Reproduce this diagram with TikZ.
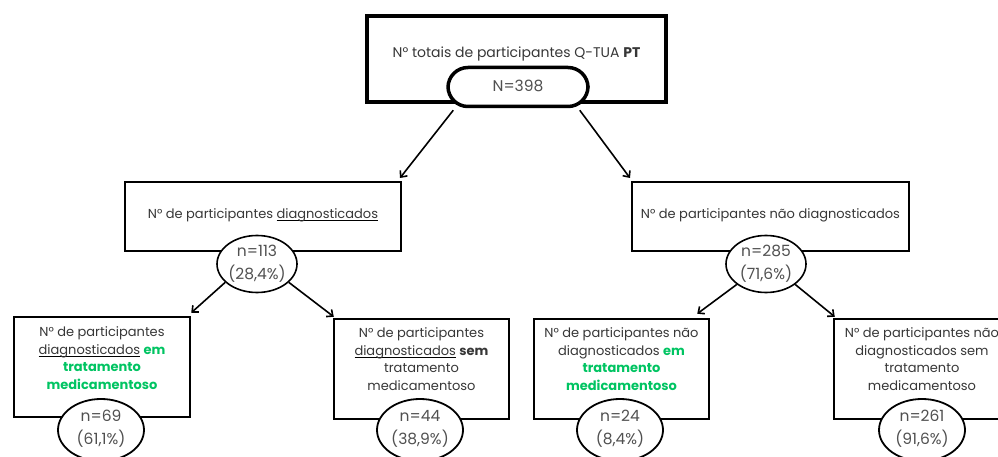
\documentclass[tikz,border=0pt]{standalone}
\usepackage{fontspec}
\setmainfont{Poppins}
\usetikzlibrary{arrows.meta,calc,shapes.geometric}
\definecolor{txt}{RGB}{55,55,55}
\definecolor{num}{RGB}{80,80,80}
\definecolor{grn}{RGB}{0,196,98}
\newsavebox{\myulbox}
\newcommand{\ul}[1]{\sbox{\myulbox}{#1}\rlap{\color{black}\vrule width \wd\myulbox height -2.2pt depth 3.3pt}\usebox{\myulbox}}
\newcommand{\gb}[1]{\textcolor{grn}{\bfseries #1}}
\begin{document}
\begin{tikzpicture}[x=1pt,y=-1pt,
  txtnode/.style={text=txt,font=\fontsize{13}{17.5}\selectfont,align=center,inner sep=0},
  numnode/.style={text=num,font=\fontsize{15.5}{23}\selectfont,align=center,inner sep=0},
  box/.style={draw=black,rectangle,inner sep=0},
  bell/.style={draw,ellipse,fill=white,line width=1.8pt,minimum width=86pt,minimum height=62pt,inner sep=0},
  conn/.style={line width=1.6pt,-{Straight Barb[length=5pt,width=9pt]}}]
\clip (0,0) rectangle (998,457);
\fill[white] (0,0) rectangle (998,457);
% top
\node[box,line width=4.5pt,minimum width=299pt,minimum height=86pt] (top) at (516.5,59) {};
\node[txtnode,font=\fontsize{14}{17}\selectfont] (toptext) at (516.5,54) {N° totais de participantes Q-TUA \textbf{PT}};
\node[draw,fill=white,line width=3.5pt,rounded corners=20pt,minimum width=140pt,minimum height=39pt,inner sep=0] (oval) at (518,87) {};
\node[numnode] (ovaltext) at (518,86) {N=398};
% middle
\node[box,line width=2pt,minimum width=276pt,minimum height=69pt] (midL) at (263,216.5) {};
\node[txtnode] (midLtext) at (263,215) {N° de participantes \ul{diagnosticados}};
\node[box,line width=2pt,minimum width=277pt,minimum height=69pt] (midR) at (770.5,216.5) {};
\node[txtnode] (midRtext) at (770.5,215) {N° de participantes não diagnosticados};
\node[draw,ellipse,fill=white,line width=1.6pt,minimum width=80pt,minimum height=57pt,inner sep=0] (eL) at (257,264) {};
\node[numnode] (eLtext) at (257,264) {n=113\\(28,4\%)};
\node[draw,ellipse,fill=white,line width=1.6pt,minimum width=80pt,minimum height=57pt,inner sep=0] (eR) at (766,264) {};
\node[numnode] (eRtext) at (766,264) {n=285\\(71,6\%)};
% bottom boxes
\node[box,line width=2.5pt,minimum width=176pt,minimum height=100pt] (b1) at (102,367) {};
\node[txtnode] (b1text) at (102,358) {N° de participantes\\\ul{diagnosticados} \gb{em}\\\gb{tratamento}\\\gb{medicamentoso}};
\node[box,line width=2.5pt,minimum width=175pt,minimum height=100pt] (b2) at (421.5,369) {};
\node[txtnode] (b2text) at (421.5,359) {N° de participantes\\\ul{diagnosticados} \textbf{sem}\\tratamento\\medicamentoso};
\node[box,line width=2.5pt,minimum width=175pt,minimum height=100pt] (b3) at (621.5,369) {};
\node[txtnode] (b3text) at (621.5,359) {N° de participantes não\\diagnosticados \gb{em}\\\gb{tratamento}\\\gb{medicamentoso}};
\node[box,line width=2.5pt,minimum width=176pt,minimum height=100pt] (b4) at (922,369) {};
\node[txtnode] (b4text) at (922,359) {N° de participantes não\\diagnosticados sem\\tratamento\\medicamentoso};
% bottom ellipses
\node[bell] (c1) at (101,430) {};
\node[numnode] (c1text) at (101,429) {n=69\\(61,1\%)};
\node[bell] (c2) at (420,430) {};
\node[numnode] (c2text) at (420,429) {n=44\\(38,9\%)};
\node[bell] (c3) at (620,430) {};
\node[numnode] (c3text) at (620,429) {n=24\\(8,4\%)};
\node[bell] (c4) at (922,430) {};
\node[numnode] (c4text) at (922,429) {n=261\\(91,6\%)};
% connectors
\draw[conn] ($(oval.south west)+(7,2)$) -- ($(midL.north east)+(-2,-3)$);
\draw[conn] ($(oval.south east)+(-10,2)$) -- ($(midR.north west)+(-1,-3)$);
\draw[conn] (eL.-150) -- ($(b1.north east)+(0,-3)$);
\draw[conn] (eL.-30) -- ($(b2.north west)+(1,-1)$);
\draw[conn] (eR.-145) -- ($(b3.north east)+(-13,-4)$);
\draw[conn] (eR.-35) -- ($(b4.north west)+(2,-1)$);
\end{tikzpicture}
\end{document}
